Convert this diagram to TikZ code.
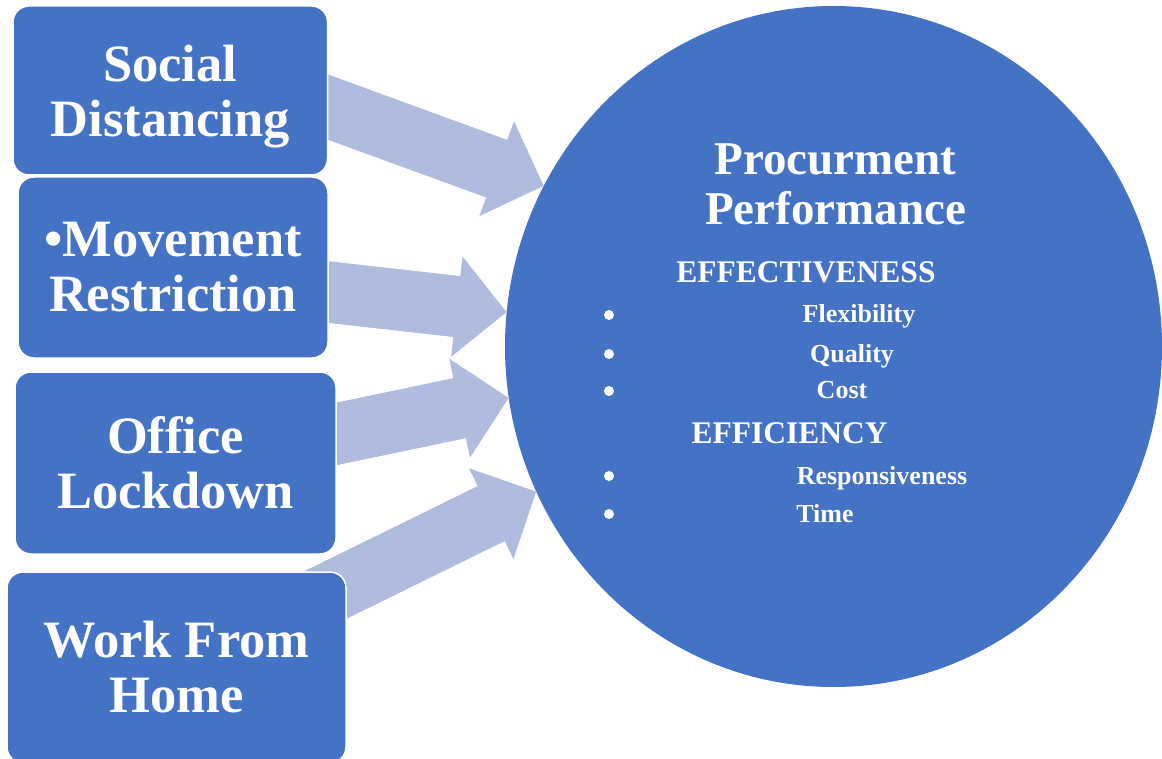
\documentclass[tikz,border=0pt]{standalone}
\usepackage{fontspec}
\setmainfont{Liberation Serif}
\usetikzlibrary{shapes.geometric,arrows.meta,backgrounds}
\definecolor{boxblue}{RGB}{68,114,196}
\definecolor{arrowblue}{RGB}{176,188,223}
\tikzset{
  factor/.style={draw=white, line width=1.5pt, fill=boxblue, rounded corners=16pt,
    text=white, font=\bfseries\fontsize{52.5}{55}\selectfont, align=center, inner sep=0pt},
  impact/.style={arrowblue, line width=61pt,
    -{Triangle[length=50pt,width=101pt,line width=0pt]},
    postaction={draw, arrows=-, shorten >=47pt}},
  item/.style={text=white, font=\bfseries\fontsize{26}{28}\selectfont, anchor=base, inner sep=0pt},
  head/.style={item, font=\bfseries\fontsize{31.5}{34}\selectfont},
}
\begin{document}
\begin{tikzpicture}[x=1pt,y=-1pt]
\useasboundingbox (0,0) rectangle (1162,759);
\node[fill=boxblue, ellipse, minimum width=657pt, minimum height=681pt, inner sep=0pt] (perf) at (833.5,346.5) {};
\node[factor, minimum width=314.5pt, minimum height=169pt] (social) at (170.25,90.5) {Social\\\smash{Distancing}};
\node[factor, minimum width=310pt, minimum height=181pt] (move) at (173,267.5) {•Movement\\Restriction};
\node[factor, minimum width=321pt, minimum height=182pt] (office) at (175.5,463) {Office\\Lockdown};
\node[factor, minimum width=339pt, minimum height=191pt] (home) at (176.5,667.5) {Work From\\Home};
\begin{scope}[on background layer]
\draw[impact] ([xshift=-17.5pt,yshift=-10.3pt]social.east) -- (perf.151.8);
\draw[impact] ([xshift=-23pt,yshift=-22pt]move.east) -- (perf.174.1);
\draw[impact] ([xshift=-26pt,yshift=23.7pt]office.east) -- (perf.189.9);
\draw[impact] ([xshift=-36pt,yshift=65.3pt]home.east) -- (perf.206);
\end{scope}
\node[text=white, font=\bfseries\fontsize{47}{50}\selectfont, align=center, anchor=base, inner sep=0pt] (title) at (835.5,225) {Procurment\\Performance};
\node[head] (effect) at (806,283) {EFFECTIVENESS};
\node[item] (flex) at (859,323) {Flexibility};
\node[item] (qual) at (852,362) {Quality};
\node[item] (cost) at (842,398) {Cost};
\node[head] (effic) at (789.5,443) {EFFICIENCY};
\node[item] (resp) at (882,484) {Responsiveness};
\node[item] (time) at (825,522) {Time};
\foreach \y in {315,354,391,476,514}
  \fill[white] (609,\y) circle (5pt);
\end{tikzpicture}
\end{document}
